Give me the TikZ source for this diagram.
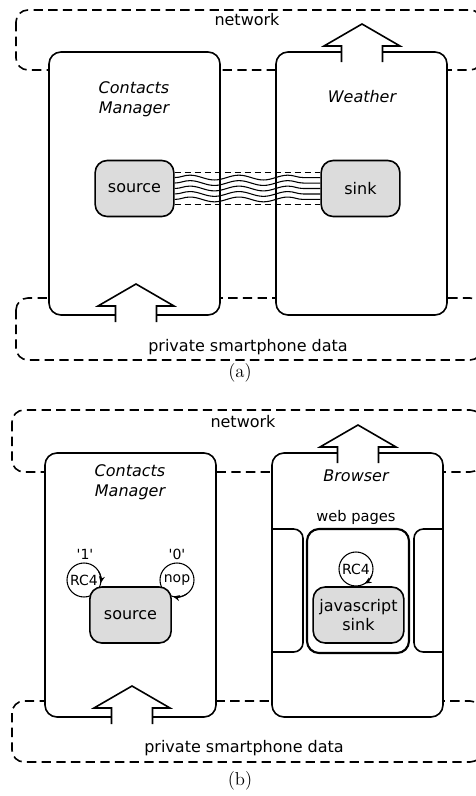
\documentclass[tikz,border=0pt]{standalone}
\usepackage{fontspec}
\setsansfont{DejaVu Sans}
\usetikzlibrary{positioning}
\usetikzlibrary{calc}
\usetikzlibrary{arrows.meta}
\usetikzlibrary{decorations.pathmorphing}
\definecolor{boxgray}{RGB}{220,220,220}

\begin{document}
\begin{tikzpicture}[x=0.75pt, y=0.75pt, line width=1.2pt,
    font=\sffamily\fontsize{12}{15}\selectfont,
    zone/.style={dash pattern=on 7pt off 4pt, rounded corners=9pt},
    app/.style={draw, fill=white, rounded corners=9pt},
    title/.style={font=\sffamily\itshape\fontsize{12}{15}\selectfont, align=center},
    comp/.style={draw, fill=boxgray, rounded corners=9pt, align=center, minimum height=42pt, inner sep=2pt,
        font=\sffamily\fontsize{12}{14.5}\selectfont},
    op/.style={draw, circle, line width=0.8pt, minimum size=25.5pt, inner sep=0pt, outer sep=0pt,
        font=\sffamily\fontsize{10.5}{12}\selectfont},
    small/.style={font=\sffamily\fontsize{10.5}{12}\selectfont},
    wave/.style={line width=0.8pt, decorate, decoration={snake, segment length=36.75pt, amplitude=1.8pt}},
    loopend/.style={line width=0.8pt, -{Stealth[length=5pt,width=4.5pt]}},
    sublabel/.style={font=\rmfamily\fontsize{14}{16}\selectfont}]

    \useasboundingbox (0,0) rectangle (475,-796);

    % (a) network and private data
    \draw[zone] (16,-10) rectangle (482,-70);
    \draw[zone] (16,-298) rectangle (482,-360);
    \node (neta) at (247,-20) {network};
    \node (priva) at (248,-347) {private smartphone data};

    % (a) apps
    \draw[app] (49,-52) rectangle (220,-315);
    \draw[app] (276,-52) rectangle (447,-315);
    \node[title] (cma) at (134,-99) {Contacts\\Manager};
    \node[title] (wea) at (362,-97) {Weather};

    \node[comp, minimum width=59pt] (srca) at (134.5,-188.5) {source};
    \node[comp, minimum width=59pt] (sinka) at (360.5,-188.5) {sink};

    % (a) covert channel
    \draw[line width=0.8pt, dash pattern=on 5pt off 2.5pt] ([yshift=11.7pt]srca.east) -- ([yshift=11.7pt]sinka.west);
    \draw[line width=0.8pt, dash pattern=on 5pt off 2.5pt] ([yshift=-11.7pt]srca.east) -- ([yshift=-11.7pt]sinka.west);
    \foreach \dy in {-8.2,-4.1,0,4.1,8.2}
      \draw[wave] ([yshift=\dy pt]srca.east) -- ([yshift=\dy pt]sinka.west);

    \node[sublabel] (capa) at (240,-373) {(a)};

    % (b) network and private data
    \draw[zone] (12,-410) rectangle (482,-472);
    \draw[zone] (12,-701) rectangle (482,-762);
    \node (netb) at (243,-422) {network};
    \node (privb) at (244,-748) {private smartphone data};

    % (b) apps
    \draw[app] (45,-453) rectangle (216,-717);
    \draw[app] (272,-453) rectangle (443,-717);
    \node[title] (cmb) at (130,-482) {Contacts\\Manager};
    \node[title] (brw) at (356,-476) {Browser};

    % (b) web pages
    \node[font=\sffamily\fontsize{11}{13}\selectfont] (web) at (356,-517) {web pages};
    \draw[rounded corners=7pt] (272,-529) -- (303,-529) -- (303,-652) -- (272,-652);
    \draw[rounded corners=7pt] (443,-529) -- (414,-529) -- (414,-652) -- (443,-652);
    \draw[rounded corners=9pt, line width=1.6pt] (307,-529) rectangle (409,-653);

    % (b) operations
    \node[op] (rcl) at (84,-580) {RC4};
    \node[op] (nop) at (177,-580) {nop};
    \node[op] (rcr) at (356,-569) {RC4};
    \node[small] (one) at (85,-554) {\textquotesingle1\textquotesingle};
    \node[small] (zero) at (177,-554) {\textquotesingle0\textquotesingle};
    \draw[loopend] (rcl.30) arc[start angle=30, end angle=-10, radius=17];
    \draw[loopend] (nop.-55) arc[start angle=-55, end angle=-103, radius=17];
    \draw[loopend] (rcr.-20) arc[start angle=-20, end angle=-59, radius=17];

    \node[comp, minimum width=61pt] (srcb) at (130.5,-615) {source};
    \node[comp, minimum width=68pt] (sinkb) at (358.5,-615) {javascript\\sink};

    \node[sublabel] (capb) at (240,-781) {(b)};

    % big arrows in and out of the apps
    \foreach \x/\y in {362/24, 136/284, 358/425, 132/686} {
      \fill[white] ({\x-20.5},{-\y-38}) -- ({\x-20.5},{-\y-22}) -- ({\x-38},{-\y-22}) -- (\x,-\y)
        -- ({\x+38},{-\y-22}) -- ({\x+20.5},{-\y-22}) -- ({\x+20.5},{-\y-38}) -- cycle;
      \draw ({\x-20.5},{-\y-38}) -- ({\x-20.5},{-\y-22}) -- ({\x-38},{-\y-22}) -- (\x,-\y)
        -- ({\x+38},{-\y-22}) -- ({\x+20.5},{-\y-22}) -- ({\x+20.5},{-\y-38});
    }
\end{tikzpicture}
\end{document}
